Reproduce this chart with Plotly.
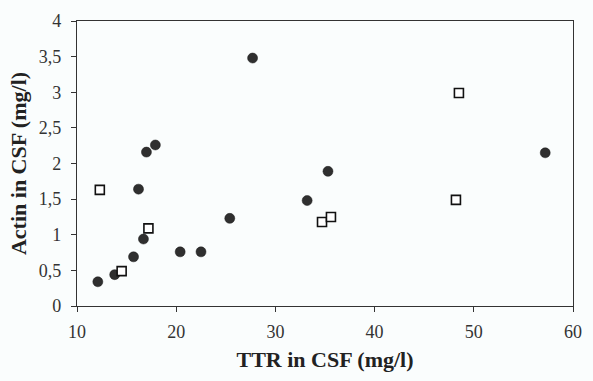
import plotly.graph_objects as go

# filled circles
circle_ttr = [12.1, 13.8, 15.7, 16.7, 16.2, 17.0, 17.9, 20.4, 22.5, 25.4, 27.7, 33.2, 35.3, 57.2]
circle_actin = [0.34, 0.44, 0.69, 0.94, 1.64, 2.16, 2.26, 0.76, 0.76, 1.23, 3.48, 1.48, 1.89, 2.15]

# open squares
square_ttr = [12.3, 14.5, 17.2, 34.7, 35.6, 48.2, 48.5]
square_actin = [1.63, 0.49, 1.09, 1.18, 1.25, 1.49, 2.99]

x_ticks = [10, 20, 30, 40, 50, 60]
y_ticks = [0, 0.5, 1, 1.5, 2, 2.5, 3, 3.5, 4]

serif = "Liberation Serif, Times New Roman, serif"
bg = "#fafdfd"

fig = go.Figure()

fig.add_trace(go.Scatter(
    x=circle_ttr, y=circle_actin, mode="markers",
    marker=dict(symbol="circle", size=10, color="#2f2f2f",
                line=dict(color="#1a1a1a", width=0.5)),
))

fig.add_trace(go.Scatter(
    x=square_ttr, y=square_actin, mode="markers",
    marker=dict(symbol="square", size=9, color="white",
                line=dict(color="#111111", width=1.6)),
))

axis_common = dict(
    showline=True, linecolor="#333333", linewidth=1.3, mirror=True,
    showgrid=False, zeroline=False,
    ticks="outside", ticklen=5, tickcolor="#333333", tickwidth=1,
    tickfont=dict(family=serif, size=18, color="#333333"),
)

fig.update_layout(
    width=593, height=381,
    margin=dict(l=77, r=11, t=19, b=75),
    paper_bgcolor=bg,
    plot_bgcolor=bg,
    showlegend=False,
    separators=", ",
    xaxis=dict(
        range=[10, 60], tickvals=x_ticks,
        ticklabelstandoff=4,
        title=dict(text="<b>TTR in CSF (mg/l)</b>", standoff=10,
                   font=dict(family=serif, size=22, color="#222222")),
        **axis_common,
    ),
    yaxis=dict(
        range=[0, 4], tickvals=y_ticks,
        ticklabelstandoff=6,
        title=dict(text="<b>Actin in CSF (mg/l)</b>", standoff=6,
                   font=dict(family=serif, size=22, color="#222222")),
        **axis_common,
    ),
)

# no body margin / scrollbars so the figure fills the window exactly
page_js = (
    "document.body.style.margin='0';"
    "document.documentElement.style.overflow='hidden';"
)
fig.write_html("out.html", config={"displayModeBar": False}, post_script=page_js)
